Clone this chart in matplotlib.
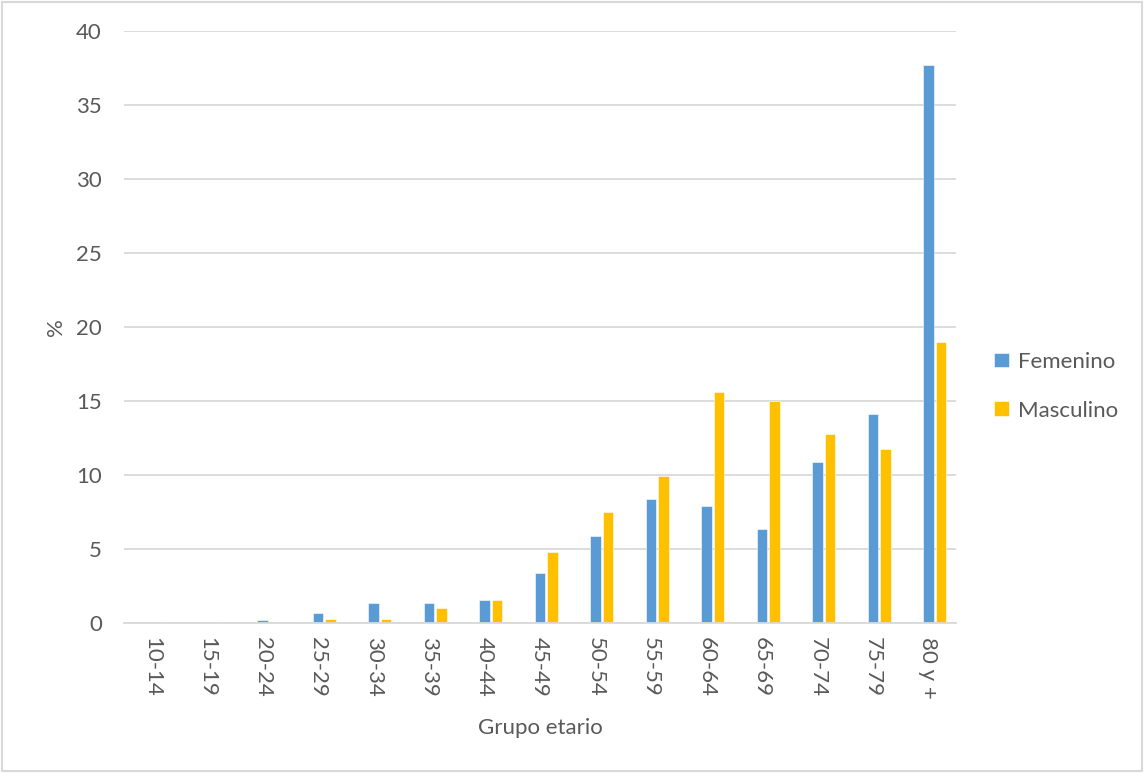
import numpy as np
import matplotlib.pyplot as plt
from matplotlib.patches import Rectangle

grupos = ['10-14', '15-19', '20-24', '25-29', '30-34', '35-39', '40-44', '45-49',
          '50-54', '55-59', '60-64', '65-69', '70-74', '75-79', '80 y +']
femenino = [0.0, 0.0, 0.22, 0.70, 1.35, 1.35, 1.58, 3.40, 5.90, 8.40, 7.93, 6.33, 10.90, 14.10, 37.7]
masculino = [0.09, 0.09, 0.1, 0.25, 0.25, 1.04, 1.53, 4.77, 7.48, 9.95, 15.63, 14.98, 12.79, 11.73, 19.0]

plt.rcParams['font.family'] = ['Lato', 'DejaVu Sans']
txt = '#595959'
azul = '#5B9BD5'
amarillo = '#FFC000'

fig = plt.figure(figsize=(11.44, 7.73), dpi=100)
ax = fig.add_axes([0.1084, 0.194, 0.7273, 0.766])

x = np.arange(len(grupos))
w = 0.19
ax.bar(x, femenino, w, color=azul, edgecolor='white', linewidth=0.4, label='Femenino', zorder=3)
ax.bar(x + 0.225, masculino, w, color=amarillo, edgecolor='white', linewidth=0.4, label='Masculino', zorder=3)

ax.set_xlim(-0.5, 14.5)
ax.set_ylim(0, 40)
ax.set_yticks(range(0, 41, 5))
ax.set_xticks(x)
ax.set_xticklabels(grupos, rotation=-90)
ax.tick_params(axis='both', length=0, labelsize=16, colors=txt)
ax.tick_params(axis='x', pad=10)
ax.tick_params(axis='y', pad=16)
ax.grid(axis='y', color='#D9D9D9', linewidth=1.3, zorder=0)
for s in ['top', 'right', 'left']:
    ax.spines[s].set_visible(False)
ax.spines['bottom'].set_color('#D9D9D9')
ax.spines['bottom'].set_linewidth(1.3)
ax.spines['bottom'].set_zorder(4)

ax.set_ylabel('%', fontsize=16, color=txt, labelpad=7)
ax.set_xlabel('Grupo etario', fontsize=16, color=txt, labelpad=14)

ax.legend(loc='center left', bbox_to_anchor=(1.022, 0.40), frameon=False,
          fontsize=16, labelcolor=txt, handlelength=0.65, handleheight=0.65,
          handletextpad=0.4, labelspacing=1.3)

fig.patches.append(Rectangle((0.002, 0.002), 0.996, 0.996, transform=fig.transFigure,
                             fill=False, edgecolor='#D9D9D9', linewidth=1.5))

fig.savefig('out.png', dpi=100)
